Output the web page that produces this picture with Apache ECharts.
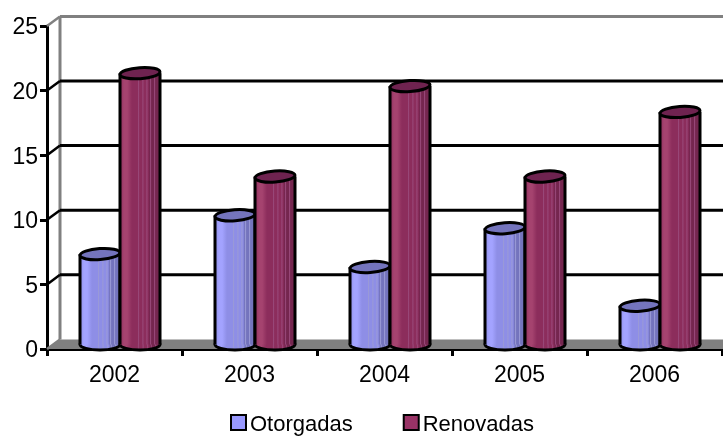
<!DOCTYPE html>
<html><head><meta charset="utf-8">
<style>html,body{margin:0;padding:0;background:#fff;overflow:hidden}#c{width:723px;height:436px}</style>
<script src="https://cdn.jsdelivr.net/npm/echarts@6/dist/echarts.min.js"></script>
</head><body><div id="c"></div>
<script>
const categories = ['2002','2003','2004','2005','2006'];
const otorgadas = [7,10,6,9,3];
const renovadas = [21,13,20,13,18];
const yTicks = [0,5,10,15,20,25];

const chart = echarts.init(document.getElementById('c'), null, {renderer:'canvas'});
const DX = 13, DY = -9.6;

function stripes(light, mid, dark, pale){
  const c = (offset,color)=>({offset,color});
  return {type:'linear',x:0,y:0,x2:1,y2:0,colorStops:[
    c(0,mid),c(0.1,light),c(0.18,light),c(0.3,mid),
    c(0.44,mid),c(0.46,pale),c(0.49,mid),
    c(0.55,mid),c(0.57,pale),c(0.60,mid),
    c(0.65,mid),c(0.67,pale),c(0.70,mid),
    c(0.74,dark),c(0.76,pale),c(0.79,dark),
    c(0.84,dark),c(0.86,pale),c(0.89,dark),
    c(1,dark)]};
}
const blueFill = stripes('#a3a3ff','#8e8ee6','#7474bd','#9a9ad6');
const plumFill = stripes('#a5436f','#8c2d5c','#75264f','#99497a');

function cylinder(offset, fill, topFill){
  return function(params, api){
    const p = api.coord([api.value(0), api.value(1)]);
    const b = api.coord([api.value(0), 0]);
    const rx = 20, ry = 5.5, cx = p[0] + offset, top = p[1] - 4.5, base = b[1] - 4.5;
    const sideStyle = {stroke:'#000', lineWidth:3};
    const tilt = 0.07;
    return {type:'group', children:[
      {type:'ellipse', shape:{cx:cx,cy:base,rx:rx,ry:ry}, style:{fill:fill,stroke:'#000',lineWidth:3}},
      {type:'rect', shape:{x:cx-rx,y:top,width:rx*2,height:base-top}, style:{fill:fill}},
      {type:'line', shape:{x1:cx-rx,y1:top,x2:cx-rx,y2:base}, style:sideStyle},
      {type:'line', shape:{x1:cx+rx,y1:top,x2:cx+rx,y2:base}, style:sideStyle},
      {type:'ellipse', shape:{cx:cx,cy:top,rx:rx,ry:ry}, rotation:tilt, originX:cx, originY:top,
        style:{fill:topFill,stroke:'#000',lineWidth:3}}
    ]};
  };
}

function wall(params, api){
  const v = api.value(0);
  const p = api.coord([categories[0], v]);
  const x0 = params.coordSys.x, x1 = x0 + params.coordSys.width + 2;
  const y = p[1];
  const edge = v === 25 || v === 0;
  const children = [];
  if (v === 0) {
    children.push({type:'polygon', shape:{points:[[x0,y],[x0+DX,y+DY],[x1,y+DY],[x1,y]]}, style:{fill:'#808080'}});
    children.push({type:'line', shape:{x1:x0+DX,y1:y+DY,x2:x0+DX,y2:y+DY-323}, style:{stroke:'#808080',lineWidth:3}});
  } else {
    children.push({type:'line', shape:{x1:x0+DX,y1:y+DY,x2:x1,y2:y+DY},
      style:{stroke: v===25 ? '#808080' : '#000', lineWidth:3}});
  }
  children.push({type:'line', shape:{x1:x0,y1:y,x2:x0+DX,y2:y+DY},
    style:{stroke: edge ? '#808080' : '#000', lineWidth:2.5}});
  return {type:'group', children};
}

const fontFamily = '"Liberation Sans", Helvetica, Arial, sans-serif';
chart.setOption({
  animation:false,
  backgroundColor:'#fff',
  grid:{left:47, top:26, width:675, height:323, containLabel:false},
  xAxis:{type:'category', data:categories, boundaryGap:true,
    axisLine:{lineStyle:{color:'#000',width:3}},
    axisTick:{show:true, length:7, lineStyle:{color:'#000',width:3}},
    axisLabel:{color:'#000', fontSize:23, fontFamily, margin:15},
    splitLine:{show:false}},
  yAxis:{type:'value', min:0, max:25, interval:5,
    axisLine:{show:true, lineStyle:{color:'#000',width:3}},
    axisTick:{show:true, length:7, lineStyle:{color:'#000',width:3}},
    axisLabel:{margin:9, formatter:'{a|{value}}',
      rich:{a:{color:'#000', fontSize:23, fontFamily, padding:[4,0,0,0]}}},
    splitLine:{show:false}},
  legend:{data:['Otorgadas','Renovadas'], left:225, top:409, itemWidth:15, itemHeight:15, itemGap:50,
    icon:'rect', formatter:'{a|{name}}',
    textStyle:{rich:{a:{color:'#000', fontSize:22, fontFamily, padding:[5,0,0,-1]}}}},
  series:[
    {type:'custom', name:'wall', data:yTicks.map(v=>[v]), renderItem:wall, encode:{y:0}, silent:true, clip:false, z:1},
    {type:'custom', name:'Otorgadas', data:categories.map((c,i)=>[c,otorgadas[i]]), encode:{x:0,y:1}, clip:false, z:2,
     renderItem:cylinder(-14.5, blueFill, '#7474bd'),
     itemStyle:{color:'#9999ff',borderColor:'#000',borderWidth:3}},
    {type:'custom', name:'Renovadas', data:categories.map((c,i)=>[c,renovadas[i]]), encode:{x:0,y:1}, clip:false, z:3,
     renderItem:cylinder(25.5, plumFill, '#6f2350'),
     itemStyle:{color:'#993366',borderColor:'#000',borderWidth:3}}
  ]
});
</script></body></html>
